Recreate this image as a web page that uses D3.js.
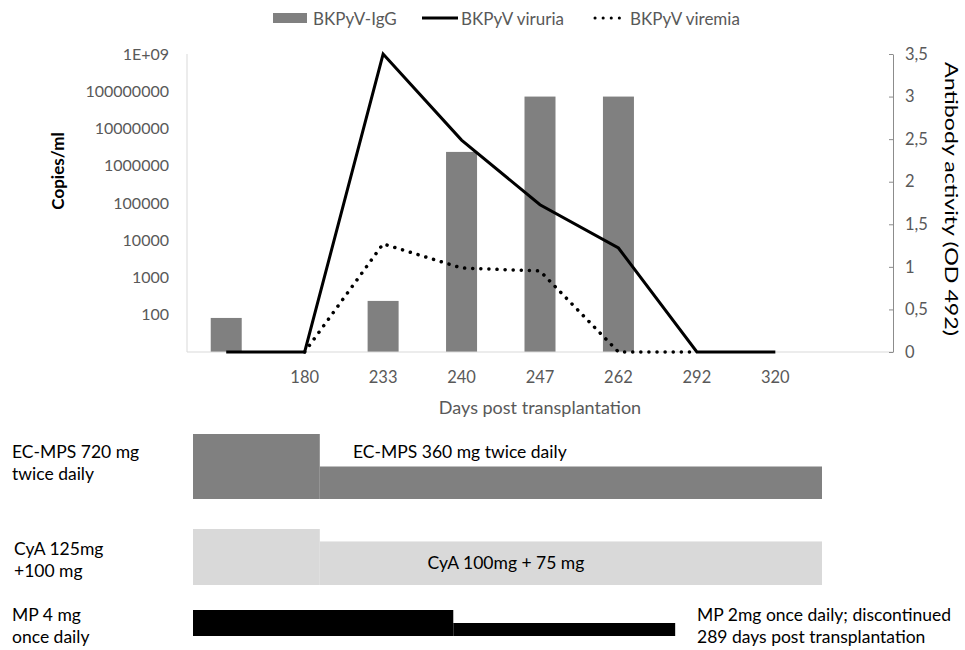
<!DOCTYPE html>
<html>
<head>
<meta charset="utf-8">
<script src="https://cdn.jsdelivr.net/npm/d3@7"></script>
<style>
  body { margin: 0; background: #fff; }
  text { font-family: Lato, "Open Sans", sans-serif; }
</style>
</head>
<body>
<div id="chart"></div>
<script>
// categories on the x axis (first and last are empty slots)
var days = ["", "180", "233", "240", "247", "262", "292", "320", ""];
// antibody activity (OD 492), right axis
var igg = [0.4, null, 0.6, 2.35, 3.0, 3.0, null, null, null];
// copies/ml, left axis (0 = not detected)
var viruria = [0, 0, 1e9, 4.9e6, 9e4, 6200, 0, 0, null];
var viremia = [null, 0, 8000, 1800, 1500, 0, 0, null, null];

var leftTicks = [100, 1000, 10000, 100000, 1000000, 10000000, 100000000, 1000000000];
var leftLabels = ["100", "1000", "10000", "100000", "1000000", "10000000", "100000000", "1E+09"];
var rightTicks = [0, 0.5, 1, 1.5, 2, 2.5, 3, 3.5];

// treatment regimens: days post transplantation, daily dose
var mpsSteps = [{ from: 0, to: 76, dose: 1440 }, { from: 76, to: 377, dose: 720 }];
var cyaSteps = [{ from: 0, to: 76, dose: 225 }, { from: 76, to: 377, dose: 175 }];
var mpSteps = [{ from: 0, to: 156, dose: 4 }, { from: 156, to: 289, dose: 2 }];

var width = 965,
    height = 650,
    x0 = 187, x1 = 893,
    yTop = 54, yBase = 352;

var svg = d3.select("#chart").append("svg")
    .attr("width", width)
    .attr("height", height);

var x = d3.scaleBand().domain(d3.range(days.length)).range([x0, x1]);
var yLog = d3.scaleLog().domain([10, 1e9]).range([yBase, yTop]);
var yR = d3.scaleLinear().domain([0, 3.5]).range([yBase, yTop]);

function logY(v) { return v <= 10 ? yBase : yLog(v); }

// bars
svg.selectAll("rect.igg")
    .data(igg.map(function (v, i) { return { v: v, i: i }; }).filter(function (d) { return d.v != null; }))
    .enter().append("rect")
    .attr("class", "igg")
    .attr("x", function (d) { return x(d.i) + x.bandwidth() / 2 - 15.5; })
    .attr("width", 31)
    .attr("y", function (d) { return yR(d.v); })
    .attr("height", function (d) { return yBase - yR(d.v); })
    .attr("fill", "#808080");

// axes lines
svg.append("line").attr("x1", x0).attr("x2", x1).attr("y1", yBase).attr("y2", yBase)
    .attr("stroke", "#d9d9d9").attr("stroke-width", 1);
svg.append("line").attr("x1", x0).attr("x2", x0).attr("y1", yTop).attr("y2", yBase)
    .attr("stroke", "#d9d9d9").attr("stroke-width", 1);

var rAxis = svg.append("g")
    .attr("transform", "translate(" + x1 + ",0)")
    .call(d3.axisRight(yR).tickValues(rightTicks).tickSize(0).tickPadding(12)
        .tickFormat(function (d) { return String(d).replace(".", ","); }));
rAxis.select(".domain").attr("stroke", "#8c8c8c");
rAxis.selectAll(".tick line").attr("x2", -4).attr("stroke", "#8c8c8c");
rAxis.selectAll("text").attr("fill", "#595959").style("font-size", "16.5px")
    .style("font-family", "Lato");

var lAxis = svg.append("g")
    .attr("transform", "translate(" + x0 + ",0)")
    .call(d3.axisLeft(yLog).tickValues(leftTicks).tickSize(0).tickPadding(18)
        .tickFormat(function (d, i) { return leftLabels[i]; }));
lAxis.select(".domain").remove();
lAxis.selectAll("text").attr("fill", "#595959").style("font-size", "16px")
    .style("font-family", "Lato");

var xAxis = svg.append("g")
    .attr("transform", "translate(0," + yBase + ")")
    .call(d3.axisBottom(x).tickSize(0).tickPadding(19).tickFormat(function (i) { return days[i]; }));
xAxis.select(".domain").remove();
xAxis.selectAll("text").attr("fill", "#595959").style("font-size", "16.5px")
    .style("font-family", "Lato");

// lines
var line = d3.line()
    .defined(function (d) { return d != null; })
    .x(function (d, i) { return x(i) + x.bandwidth() / 2; })
    .y(function (d) { return logY(d); });

svg.append("path").datum(viremia)
    .attr("d", line)
    .attr("fill", "none")
    .attr("stroke", "#000")
    .attr("stroke-width", 3.5)
    .attr("stroke-linecap", "round")
    .attr("stroke-dasharray", "0.1 8");

svg.append("path").datum(viruria)
    .attr("d", line)
    .attr("fill", "none")
    .attr("stroke", "#000")
    .attr("stroke-width", 3);

// axis titles
svg.append("text")
    .attr("transform", "translate(57,171) rotate(-90)")
    .attr("text-anchor", "middle")
    .attr("dominant-baseline", "central")
    .style("font-size", "17px").style("font-weight", "bold")
    .text("Copies/ml");

svg.append("text")
    .attr("transform", "translate(952,199) rotate(90)")
    .attr("text-anchor", "middle")
    .attr("dominant-baseline", "central")
    .attr("textLength", 274)
    .attr("lengthAdjust", "spacingAndGlyphs")
    .style("font-size", "18px")
    .text("Antibody activity (OD 492)");

svg.append("text")
    .attr("x", (x0 + x1) / 2).attr("y", 407)
    .attr("text-anchor", "middle")
    .attr("dominant-baseline", "central")
    .attr("fill", "#595959")
    .style("font-size", "18px")
    .text("Days post transplantation");

// legend
var leg = svg.append("g").attr("fill", "#595959").style("font-size", "17px");
leg.append("rect").attr("x", 273).attr("y", 13).attr("width", 34).attr("height", 10).attr("fill", "#808080");
leg.append("text").attr("x", 313).attr("y", 18).attr("dominant-baseline", "central").text("BKPyV-IgG");
leg.append("line").attr("x1", 422).attr("x2", 458).attr("y1", 18).attr("y2", 18)
    .attr("stroke", "#000").attr("stroke-width", 3);
leg.append("text").attr("x", 461).attr("y", 18).attr("dominant-baseline", "central").text("BKPyV viruria");
leg.append("line").attr("x1", 595).attr("x2", 627).attr("y1", 18).attr("y2", 18)
    .attr("stroke", "#000").attr("stroke-width", 3).attr("stroke-linecap", "round")
    .attr("stroke-dasharray", "0.1 8");
leg.append("text").attr("x", 630).attr("y", 18).attr("dominant-baseline", "central").text("BKPyV viremia");

// regimen timeline
var t = d3.scaleLinear().domain([0, 377]).range([193, 822]);

function regimen(steps, base, maxH, color) {
    var h = d3.scaleLinear().domain([0, d3.max(steps, function (d) { return d.dose; })]).range([0, maxH]);
    svg.append("g").selectAll("rect")
        .data(steps)
        .enter().append("rect")
        .attr("x", function (d) { return t(d.from); })
        .attr("width", function (d) { return t(d.to) - t(d.from); })
        .attr("y", function (d) { return base - h(d.dose); })
        .attr("height", function (d) { return h(d.dose); })
        .attr("fill", color);
}
regimen(mpsSteps, 499, 65, "#808080");
regimen(cyaSteps, 585, 56, "#d9d9d9");
regimen(mpSteps, 636, 26, "#000");

var notes = [
    ["EC-MPS 720 mg", 12, 451, "start"],
    ["twice daily", 12, 473, "start"],
    ["EC-MPS 360 mg twice daily", 353, 451, "start"],
    ["CyA 125mg", 14, 548, "start"],
    ["+100 mg", 14, 570, "start"],
    ["CyA 100mg + 75 mg", 506, 562, "middle"],
    ["MP 4 mg", 12, 614, "start"],
    ["once daily", 12, 636, "start"],
    ["MP 2mg once daily; discontinued", 697, 614, "start"],
    ["289 days post transplantation", 697, 636, "start"]
];
svg.append("g").selectAll("text")
    .data(notes)
    .enter().append("text")
    .attr("x", function (d) { return d[1]; })
    .attr("y", function (d) { return d[2]; })
    .attr("text-anchor", function (d) { return d[3]; })
    .attr("dominant-baseline", "central")
    .style("font-size", "17.5px")
    .text(function (d) { return d[0]; });
</script>
</body>
</html>
